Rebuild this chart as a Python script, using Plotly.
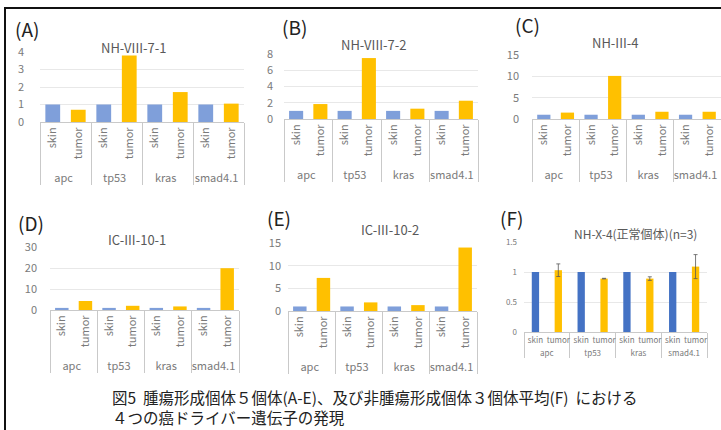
import plotly.graph_objects as go

W, H = 721, 430

# ---------------- data ----------------
genes = ["apc", "tp53", "kras", "smad4.1"]
tissues = ["skin", "tumor"]
titles = ["NH-VIII-7-1", "NH-VIII-7-2", "NH-III-4",
          "IC-III-10-1", "IC-III-10-2", "NH-X-4(正常個体)(n=3)"]
panel_labels = ["(A)", "(B)", "(C)", "(D)", "(E)", "(F)"]

skin_A = [1.0, 1.0, 1.0, 1.0]
tumor_A = [0.70, 3.80, 1.71, 1.05]
skin_B = [1.0, 1.0, 1.0, 1.0]
tumor_B = [1.84, 7.50, 1.27, 2.25]
skin_C = [1.0, 1.0, 1.0, 1.0]
tumor_C = [1.5, 10.1, 1.7, 1.7]
skin_D = [1.0, 1.0, 1.0, 1.0]
tumor_D = [4.3, 2.0, 1.7, 19.9]
skin_E = [1.0, 1.0, 1.0, 1.0]
tumor_E = [7.3, 1.9, 1.3, 14.0]
skin_F = [1.0, 1.0, 1.0, 1.0]
tumor_F = [1.03, 0.89, 0.89, 1.09]
tumor_F_err = [0.105, 0.005, 0.03, 0.20]

caption_lines = ["図5  腫瘍形成個体５個体(A-E)、及び非腫瘍形成個体３個体平均(F)  における",
                 "４つの癌ドライバー遺伝子の発現"]

# ---------------- layout helpers (pixel boxes) ----------------
def fx(px):
    return px / W

def fy(py):
    return 1 - py / H

FONT = "Noto Sans CJK JP"
BLUE_LIGHT = "#7f9fda"
BLUE_DARK = "#4472c4"
GOLD = "#ffc000"

panels = [
    dict(skin=skin_A, tumor=tumor_A, err=None, box=(40, 244, 52, 122), ymax=4, dtick=1, bw=0.58,
         tf=11, yf=11, so=15, ang=-90, blue=BLUE_LIGHT, lab=(27.5, 28), tit=(133, 47), ts=13),
    dict(skin=skin_B, tumor=tumor_B, err=None, box=(284, 478, 54, 119), ymax=8, dtick=2, bw=0.58,
         tf=11, yf=11, so=10, ang=-90, blue=BLUE_LIGHT, lab=(294, 27), tit=(373, 44), ts=13),
    dict(skin=skin_C, tumor=tumor_C, err=None, box=(532, 721, 55, 119), ymax=15, dtick=5, bw=0.56,
         tf=11, yf=11, so=12, ang=-90, blue=BLUE_LIGHT, lab=(527.5, 24), tit=(615, 42.5), ts=13),
    dict(skin=skin_D, tumor=tumor_D, err=None, box=(50, 239, 247, 310), ymax=30, dtick=10, bw=0.57,
         tf=11, yf=11, so=12, ang=-90, blue=BLUE_LIGHT, lab=(31, 222), tit=(137, 239), ts=13),
    dict(skin=skin_E, tumor=tumor_E, err=None, box=(288, 477, 243, 311), ymax=15, dtick=5, bw=0.57,
         tf=11, yf=11, so=6, ang=-90, blue=BLUE_LIGHT, lab=(279, 217), tit=(390, 229), ts=13),
    dict(skin=skin_F, tumor=tumor_F, err=tumor_F_err, box=(524, 707, 242, 332), ymax=1.5, dtick=0.5, bw=0.32,
         tf=8, yf=8, so=6, ang=0, blue=BLUE_DARK, lab=(511, 217), tit=(635, 233), ts=12),
]

fig = go.Figure()
annotations = []
for i, p in enumerate(panels):
    n = i + 1
    xa = "x" if n == 1 else f"x{n}"
    ya = "y" if n == 1 else f"y{n}"
    fig.add_trace(go.Bar(
        x=[genes, [tissues[0]] * len(genes)], y=p["skin"],
        marker=dict(color=p["blue"], line=dict(width=0)), width=p["bw"],
        xaxis=xa, yaxis=ya, showlegend=False, hoverinfo="skip"))
    err = None
    if p["err"] is not None:
        err = dict(type="data", array=p["err"], visible=True,
                   color="#595959", thickness=0.8, width=2)
    fig.add_trace(go.Bar(
        x=[genes, [tissues[1]] * len(genes)], y=p["tumor"],
        marker=dict(color=GOLD, line=dict(width=0)), width=p["bw"],
        error_y=err,
        xaxis=xa, yaxis=ya, showlegend=False, hoverinfo="skip"))

    x0, x1, yt, yb = p["box"]
    xkey = "xaxis" if n == 1 else f"xaxis{n}"
    ykey = "yaxis" if n == 1 else f"yaxis{n}"
    fig.layout[xkey] = dict(
        type="multicategory", domain=[fx(x0), fx(x1)], anchor=ya, automargin=False,
        showline=True, linecolor="#c9c9c9", linewidth=1,
        showdividers=True, dividercolor="#c9c9c9", dividerwidth=1,
        tickangle=p["ang"], tickfont=dict(family=FONT, size=p["tf"], color="#7a7a7a"),
        showgrid=False, zeroline=False, fixedrange=True)
    fig.layout[ykey] = dict(
        domain=[fy(yb), fy(yt)], anchor=xa, range=[0, p["ymax"]], dtick=p["dtick"],
        automargin=False,
        showgrid=True, gridcolor="#e8e8e8", gridwidth=1, zeroline=False,
        showline=False, ticks="", ticklabelstandoff=p["so"],
        tickfont=dict(family=FONT, size=p["yf"], color="#7a7a7a"), fixedrange=True)

    annotations.append(dict(
        text=panel_labels[i], x=fx(p["lab"][0]), y=fy(p["lab"][1]), xref="paper", yref="paper",
        xanchor="center", yanchor="middle", showarrow=False,
        font=dict(family=FONT, size=19, color="#222222")))
    annotations.append(dict(
        text=titles[i], x=fx(p["tit"][0]), y=fy(p["tit"][1]), xref="paper", yref="paper",
        xanchor="center", yanchor="middle", showarrow=False,
        font=dict(family=FONT, size=p["ts"], color="#595959")))

annotations.append(dict(
    text="<br>".join(caption_lines), x=fx(110), y=fy(407), xref="paper", yref="paper",
    xanchor="left", yanchor="middle", align="left", showarrow=False,
    font=dict(family=FONT, size=15.5, color="#222222")))

shapes = [
    dict(type="line", xref="paper", yref="paper", x0=fx(4), x1=fx(721), y0=fy(8), y1=fy(8),
         line=dict(color="#111111", width=2)),
    dict(type="line", xref="paper", yref="paper", x0=fx(5), x1=fx(5), y0=fy(8), y1=fy(430),
         line=dict(color="#111111", width=2)),
]

fig.update_layout(
    width=W, height=H, margin=dict(l=0, r=0, t=0, b=0, autoexpand=False),
    paper_bgcolor="white", plot_bgcolor="white",
    barmode="overlay", bargap=0.4,
    annotations=annotations, shapes=shapes,
    font=dict(family=FONT),
)

fig.write_html(
    "out.html",
    config={"displayModeBar": False},
    post_script="document.body.style.margin='0';document.body.style.overflow='hidden';",
)
